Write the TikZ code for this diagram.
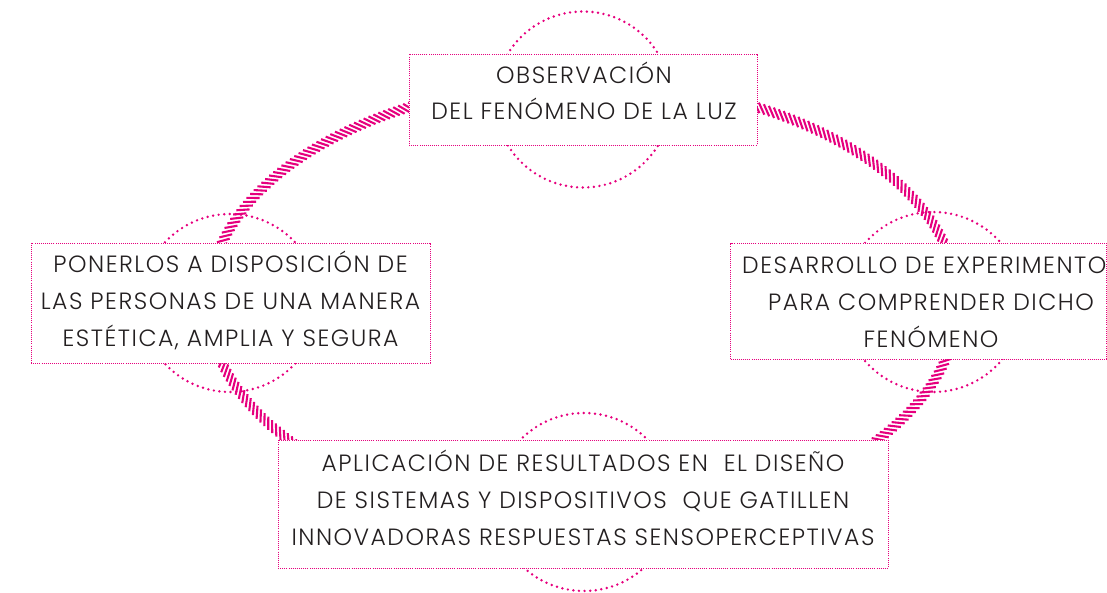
\documentclass[tikz,border=0pt]{standalone}
\usepackage{fontspec}
\setmainfont{Poppins}[UprightFont={* Light}, LetterSpace=6.4]
\usetikzlibrary{decorations.markings}
\definecolor{pk}{HTML}{E6007E}
\definecolor{txt}{HTML}{231F20}
\begin{document}
\begin{tikzpicture}[x=1pt,y=1pt,
  boxstyle/.style={draw=pk, line width=0.9pt, dash pattern=on 1pt off 1.1pt, fill=white, inner sep=0pt, rectangle},
  linestyle/.style={anchor=base, inner sep=0pt, text=txt, font=\fontsize{23.5}{36.7}\selectfont},
  ring/.style={draw=pk, line width=2.7pt, line cap=round, dash pattern=on 0pt off 5.6pt},
  hatch/.style={postaction={decorate}, decoration={markings, mark=between positions 0 and 1 step 5.2pt with {\draw[pk, line width=2.1pt] (132:6.6pt) -- (-48:6.6pt);}}}]
\useasboundingbox (0,0) rectangle (1107,592);
% dotted rings behind the boxes
\draw[ring] (583,492.5) circle[radius=88];
\draw[ring] (230,289) circle[radius=89];
\draw[ring] (933,290) circle[radius=90];
\draw[ring] (584,90) circle[radius=89];
% hatched connectors (parts of one ellipse)
\coordinate (E) at (583,289);
\path[hatch] (E) ++(70:375 and 221) arc[start angle=70, end angle=10, x radius=375, y radius=221];
\path[hatch] (E) ++(-10:375 and 221) arc[start angle=-10, end angle=-70, x radius=375, y radius=221];
\path[hatch] (E) ++(-110:375 and 221) arc[start angle=-110, end angle=-170, x radius=375, y radius=221];
\path[hatch] (E) ++(170:375 and 221) arc[start angle=170, end angle=110, x radius=375, y radius=221];
% boxes
\node[boxstyle, minimum width=348, minimum height=91] (top) at (583,492.5) {};
\node[boxstyle, minimum width=399, minimum height=120] (left) at (230.5,289) {};
\node[boxstyle, minimum width=376, minimum height=116] (right) at (918.5,291) {};
\node[boxstyle, minimum width=610, minimum height=128] (bottom) at (583,88) {};
% texts
\node[linestyle] (t1) at (584,508.7) {OBSERVACIÓN};
\node[linestyle] (t2) at (584,472) {DEL FENÓMENO DE LA LUZ};
\node[linestyle] (l1) at (230.5,319) {PONERLOS A DISPOSICIÓN DE};
\node[linestyle] (l2) at (230.5,282) {LAS PERSONAS DE UNA MANERA};
\node[linestyle] (l3) at (230.5,245) {ESTÉTICA, AMPLIA Y SEGURA};
\node[linestyle] (r1) at (931,318.7) {DESARROLLO DE EXPERIMENTO\hphantom{S}};
\node[linestyle] (r2) at (931,281) {PARA COMPRENDER DICHO};
\node[linestyle] (r3) at (931,244.7) {FENÓMENO};
\node[linestyle] (b1) at (583,121) {APLICACIÓN DE RESULTADOS EN\ \ EL DISEÑO};
\node[linestyle] (b2) at (583,84) {DE SISTEMAS Y DISPOSITIVOS\ \ QUE GATILLEN};
\node[linestyle] (b3) at (583,47) {INNOVADORAS RESPUESTAS SENSOPERCEPTIVAS};
\end{tikzpicture}
\end{document}
